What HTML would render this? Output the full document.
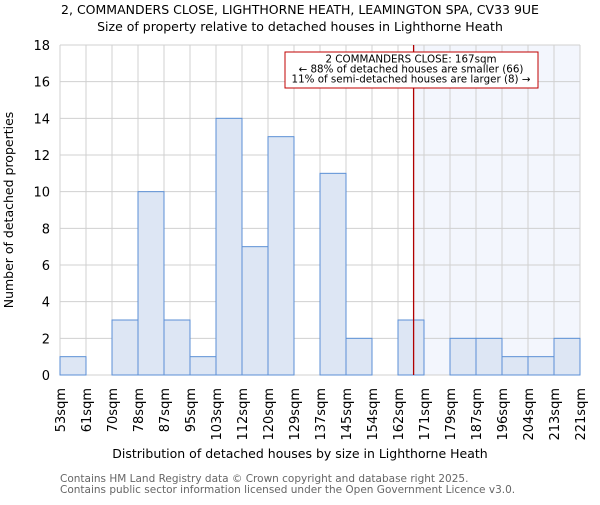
<!DOCTYPE html>
<html><head><meta charset="utf-8"><style>
body{margin:0;background:#fff;}
svg{font-family:"DejaVu Sans","Liberation Sans",sans-serif;}
</style></head><body>
<svg id="chart" width="600" height="500" xmlns="http://www.w3.org/2000/svg">
<text x="300" y="14" text-anchor="middle" font-size="12.5" fill="#000">2, COMMANDERS CLOSE, LIGHTHORNE HEATH, LEAMINGTON SPA, CV33 9UE</text>
<text x="300" y="31" text-anchor="middle" font-size="12.5" fill="#000">Size of property relative to detached houses in Lighthorne Heath</text>
<g id="grid"></g>
<g id="bars"></g>
<g id="axes"></g>
<text x="300" y="458" text-anchor="middle" font-size="12.5">Distribution of detached houses by size in Lighthorne Heath</text>
<text transform="translate(13,210) rotate(-90)" text-anchor="middle" font-size="12.5">Number of detached properties</text>
<text x="60" y="482" font-size="10.5" fill="#666">Contains HM Land Registry data © Crown copyright and database right 2025.</text>
<text x="60" y="493" font-size="10.5" fill="#666">Contains public sector information licensed under the Open Government Licence v3.0.</text>
</svg>
<script>
const binLabels=["53sqm","61sqm","70sqm","78sqm","87sqm","95sqm","103sqm","112sqm","120sqm","129sqm","137sqm","145sqm","154sqm","162sqm","171sqm","179sqm","187sqm","196sqm","204sqm","213sqm","221sqm"];
const counts=[1,0,3,10,3,1,14,7,13,0,11,2,0,3,0,2,2,1,1,2];
const yTicks=[0,2,4,6,8,10,12,14,16,18];
const markerBin=13.6;
const NS="http://www.w3.org/2000/svg";
const L=60,R=580,T=45,B=375,yMax=18;
const nb=counts.length,bw=(R-L)/nb;
const xs=i=>L+i*bw;
const ys=v=>B-(B-T)*v/yMax;
function mk(tag,attrs,parent,text){const e=document.createElementNS(NS,tag);for(const k in attrs)e.setAttribute(k,attrs[k]);if(text!==undefined)e.textContent=text;parent.appendChild(e);return e;}
const grid=document.getElementById('grid'),bars=document.getElementById('bars'),axes=document.getElementById('axes');
const mx=xs(markerBin);
let sh=mk('rect',{x:mx,y:T,width:R-mx,height:B-T,fill:'#f3f6fd'},grid);


for(let i=0;i<=nb;i++){let g=mk('line',{x1:xs(i),x2:xs(i),y1:T,y2:B,stroke:'#d0d0d0','stroke-width':1},grid);

}
yTicks.forEach(v=>{let g=mk('line',{x1:L,x2:R,y1:ys(v),y2:ys(v),stroke:'#d0d0d0','stroke-width':1},grid);


let t=mk('text',{x:L-10,y:ys(v)+5,'text-anchor':'end','font-size':13},axes,String(v));

});
counts.forEach((c,i)=>{if(c<=0)return;let r=mk('rect',{x:xs(i),y:ys(c),width:bw,height:B-ys(c),fill:'#dde6f4',stroke:'#5b8fd6','stroke-width':1},bars);

});
binLabels.forEach((l,i)=>{let t=mk('text',{transform:`translate(${xs(i)+5},388) rotate(-90)`,'text-anchor':'end','font-size':13},axes,l);

});
let ml=mk('line',{x1:mx,x2:mx,y1:T,y2:B,stroke:'#b00000','stroke-width':1.3},bars);


const ann=mk('g',{},axes);


mk('rect',{x:285,y:52,width:253,height:36,fill:'#fff',stroke:'#c00000','stroke-width':1},ann);
["2 COMMANDERS CLOSE: 167sqm","← 88% of detached houses are smaller (66)","11% of semi-detached houses are larger (8) →"].forEach((s,k)=>{mk('text',{x:411,y:62.5+k*10,'text-anchor':'middle','font-size':10.3},ann,s);});
</script>
</body></html>
